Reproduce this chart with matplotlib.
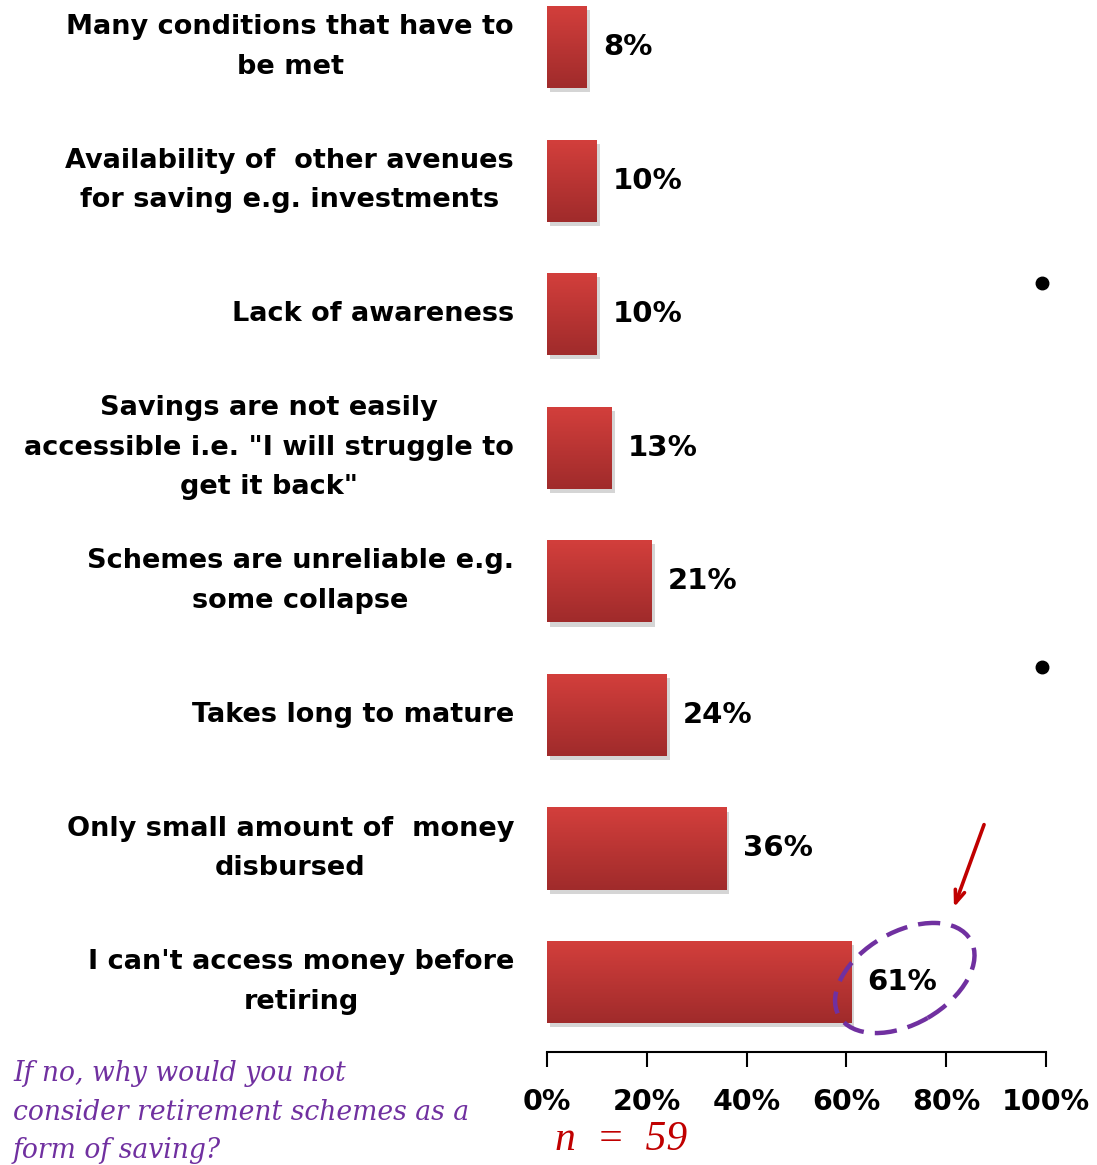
"""
Retirement schemes survey: reasons for not saving
"""
import matplotlib
matplotlib.use('Agg')
import matplotlib.pyplot as plt
import matplotlib.patheffects as pe
from matplotlib.colors import LinearSegmentedColormap
from matplotlib.patches import Ellipse
from matplotlib.transforms import ScaledTranslation
from matplotlib.lines import Line2D
import numpy as np

plt.rcParams['font.family'] = 'DejaVu Sans'

reasons = [
    'Many conditions that have to\nbe met',
    'Availability of  other avenues\nfor saving e.g. investments',
    'Lack of awareness',
    'Savings are not easily\naccessible i.e. "I will struggle to\nget it back"',
    'Schemes are unreliable e.g.\nsome collapse',
    'Takes long to mature',
    'Only small amount of  money\ndisbursed',
    "I can't access money before\nretiring",
]
shares = [8, 10, 10, 13, 21, 24, 36, 61]
xticks = [0, 20, 40, 60, 80, 100]
question = 'If no, why would you not\nconsider retirement schemes as a\nform of saving?'
sample_note = 'n  =  59'

W, H = 1097, 1165
fig = plt.figure(figsize=(W / 100, H / 100), dpi=100)
ax = fig.add_axes([547 / W, (H - 1052) / H, (1046 - 547) / W, 1052 / H])

y = np.arange(len(reasons))
bar_h = 0.615
grad_cmap = LinearSegmentedColormap.from_list('redgrad', ['#d33f3c', '#a02b2b'])
gradient = np.linspace(0, 1, 64).reshape(-1, 1)

bars = ax.barh(y, shares, height=bar_h, color='#c03737', zorder=1)
for bar, v, yi in zip(bars, shares, y):
    bar.set_path_effects([pe.SimplePatchShadow(offset=(2, -3), alpha=0.3,
                                               shadow_rgbFace='#777777'),
                          pe.Normal()])
    im = ax.imshow(gradient, cmap=grad_cmap, aspect='auto', zorder=2,
                   extent=[0, v, yi + bar_h / 2, yi - bar_h / 2])
    im.set_clip_path(bar)
    ax.text(v + 3.2, yi, f'{v}%', ha='left', va='center',
            fontsize=21, fontweight='bold', zorder=3)

ax.set_xlim(0, 100)
ax.set_ylim(7.524, -0.352)
ax.set_xticks(xticks)
ax.set_xticklabels([f'{t}%' for t in xticks], fontsize=20.5, fontweight='bold')
ax.tick_params(axis='x', direction='out', length=11, width=1.5, pad=15)
ax.set_yticks([])
for side in ['top', 'right', 'left']:
    ax.spines[side].set_visible(False)
ax.spines['bottom'].set_linewidth(1.5)

# category labels, right-aligned next to the bars
for label, yi in zip(reasons, y):
    ax.text(-6.6, yi, label, ha='right', va='center', multialignment='center',
            fontsize=19.5, fontweight='bold', linespacing=1.68)

# highlight around the top answer
trans = fig.dpi_scale_trans + ScaledTranslation(71.7, 6.97, ax.transData)
ell = Ellipse((0, 0), width=1.52, height=0.92, angle=30, transform=trans,
              fill=False, edgecolor='#7030a0', linewidth=3.2,
              linestyle=(0, (5, 2.5)), zorder=4, clip_on=False)
fig.add_artist(ell)

ax.annotate('', xy=(953 / W, 1 - 910 / H), xytext=(985 / W, 1 - 822 / H),
            xycoords='figure fraction', textcoords='figure fraction',
            arrowprops=dict(arrowstyle='->,head_length=0.9,head_width=0.35',
                            color='#c00000', lw=2.6))

# stray bullets
for py in [283, 667]:
    fig.add_artist(Line2D([1042 / W], [1 - py / H], marker='o', markersize=9,
                          color='black', transform=fig.transFigure))

fig.text(13 / W, 1 - 1060 / H, question, ha='left', va='top', color='#7030a0',
         fontsize=19.2, fontstyle='italic', family='DejaVu Serif', linespacing=1.55)
fig.text(555 / W, 1 - 1140 / H, sample_note, ha='left', va='center', color='#c00000',
         fontsize=30, fontstyle='italic', family='Liberation Serif')

plt.savefig('out.png', dpi=100)
